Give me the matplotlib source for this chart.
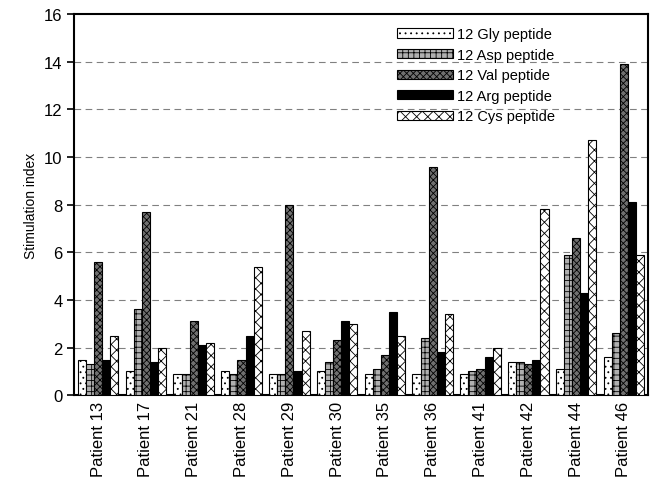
import matplotlib
matplotlib.use("Agg")
import matplotlib.pyplot as plt
import numpy as np

plt.rcParams['font.family'] = ['Liberation Sans', 'DejaVu Sans']
plt.rcParams['hatch.linewidth'] = 0.6

patients = ['Patient 13', 'Patient 17', 'Patient 21', 'Patient 28', 'Patient 29', 'Patient 30',
            'Patient 35', 'Patient 36', 'Patient 41', 'Patient 42', 'Patient 44', 'Patient 46']
peptides = ['12 Gly peptide', '12 Asp peptide', '12 Val peptide', '12 Arg peptide', '12 Cys peptide']

gly = [1.5, 1.0, 0.9, 1.0, 0.9, 1.0, 0.9, 0.9, 0.9, 1.4, 1.1, 1.6]
asp = [1.3, 3.6, 0.9, 0.9, 0.9, 1.4, 1.1, 2.4, 1.0, 1.4, 5.9, 2.6]
val = [5.6, 7.7, 3.1, 1.5, 8.0, 2.3, 1.7, 9.6, 1.1, 1.3, 6.6, 13.9]
arg = [1.5, 1.4, 2.1, 2.5, 1.0, 3.1, 3.5, 1.8, 1.6, 1.5, 4.3, 8.1]
cys = [2.5, 2.0, 2.2, 5.4, 2.7, 3.0, 2.5, 3.4, 2.0, 7.8, 10.7, 5.9]

series = [gly, asp, val, arg, cys]
# fill colour and hatch for each peptide
styles = [('white', '...'), ('#b0b0b0', '+++'), ('#707070', 'xxxxx'), ('black', ''), ('white', 'xxx')]

fig = plt.figure(figsize=(6.57, 4.85), dpi=100)
ax = fig.add_axes([0.113, 0.183, 0.873, 0.786])

x = np.arange(len(patients))
w = 0.17
for i, (vals, (fc, h)) in enumerate(zip(series, styles)):
    ax.bar(x + (i - 2) * w, vals, w, color=fc, hatch=h, edgecolor='black',
           linewidth=0.8, label=peptides[i], zorder=3)

ax.set_xlim(-0.5, len(patients) - 0.5)
ax.set_ylim(0, 16)
ax.set_yticks(range(0, 17, 2))
ax.set_xticks(x)
ax.set_xticklabels(patients, rotation=90, fontsize=12)
ax.tick_params(axis='y', labelsize=12, width=1.2, length=5)
ax.tick_params(axis='x', length=0, pad=4)
ax.set_ylabel('Stimulation index', fontsize=10)

for yv in range(2, 16, 2):
    ax.axhline(yv, color='#808080', linestyle=(0, (6, 4)), linewidth=0.8, zorder=1)

for s in ax.spines.values():
    s.set_linewidth(1.5)

ax.legend(loc='upper left', bbox_to_anchor=(0.54, 1.0), frameon=False, fontsize=10.5,
          handlelength=3.8, handleheight=0.6, handletextpad=0.3, labelspacing=0.45)

fig.savefig('out.png', dpi=100)
